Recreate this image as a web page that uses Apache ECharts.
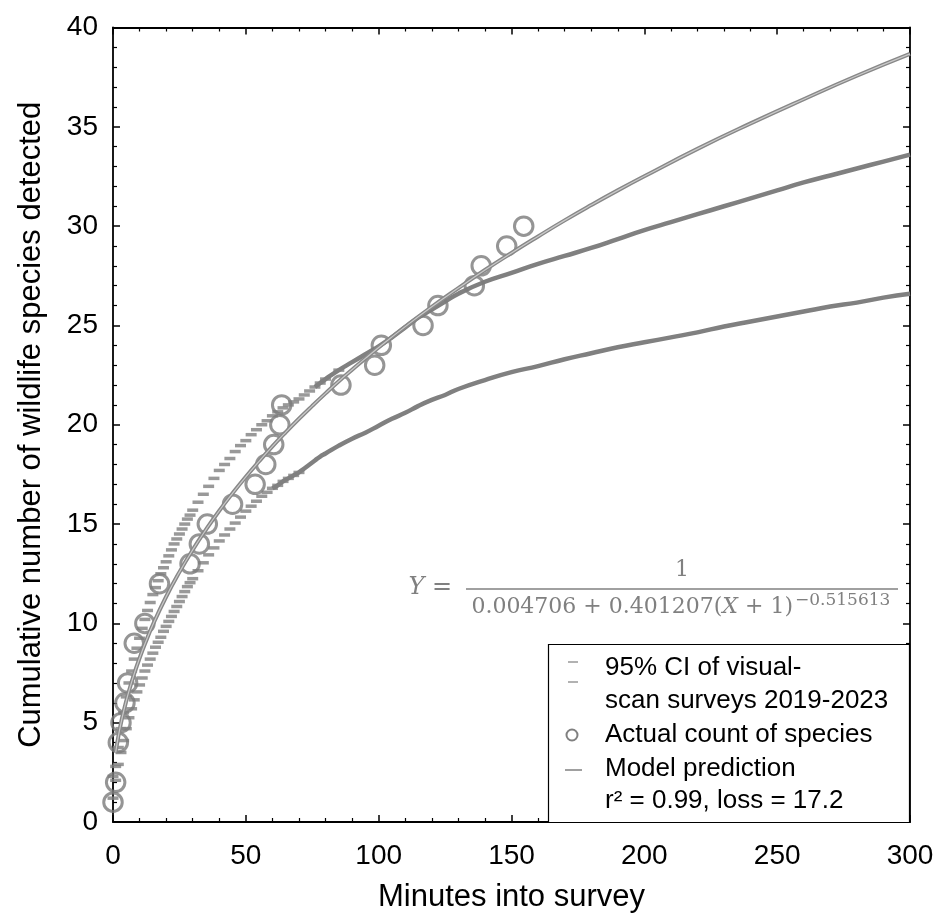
<!DOCTYPE html>
<html><head><meta charset="utf-8">
<script src="https://cdn.jsdelivr.net/npm/echarts@6/dist/echarts.min.js"></script>
<style>html,body{margin:0;padding:0;background:#fff}#c{width:945px;height:918px}</style>
</head><body><div id="c"></div>
<script>
// ---- data ----
const xTitle = 'Minutes into survey';
const yTitle = 'Cumulative number of wildlife species detected';

// actual cumulative count of species [minute, count]
const actualCounts = [[0,1],[1,2],[2,4],[3,5],[4.5,6],[5.5,7],[8,9],[12,10],[17.5,12],[29,13],[32.5,14],[35.5,15],[45,16],[53.5,17],[57.5,18],[60.5,19],[62.8,20],[63.5,21],[85.8,22],[98.5,23],[101,24],[116.7,25],[122.3,26],[136,27],[138.6,28],[148.2,29],[154.6,30]];

// model prediction curve [minute, species]
const modelPrediction = [[1,3.50],[2,4.30],[3,4.98],[4,5.57],[5,6.10],[6,6.59],[8,7.47],[10,8.25],[12,8.96],[15,9.93],[20,11.34],[25,12.58],[30,13.70],[35,14.72],[40,15.67],[45,16.55],[50,17.38],[55,18.16],[60,18.91],[65,19.62],[70,20.30],[75,20.95],[80,21.58],[85,22.19],[90,22.77],[95,23.34],[100,23.89],[110,24.94],[120,25.94],[130,26.88],[140,27.79],[150,28.65],[160,29.48],[170,30.29],[180,31.06],[190,31.80],[200,32.51],[220,33.89],[240,35.17],[260,36.39],[280,37.57],[300,38.67]];

// 95% CI upper band [minute, species]
const ciUpper = [[0,2.3],[1,2.8],[2,3.75],[3,4.7],[4,5.5],[5,6.3],[6,7.0],[7,7.6],[8,8.2],[9,8.75],[10,9.25],[11,9.75],[12,10.2],[13,10.65],[14,11.05],[15,11.45],[16,11.8],[17,12.15],[18,12.5],[19,12.8],[20,13.1],[21,13.4],[22,13.7],[23,14.0],[24,14.25],[25,14.5],[26,14.75],[27,15.0],[28,15.25],[29,15.45],[30,15.7],[32,16.1],[34,16.5],[36,16.9],[38,17.3],[40,17.7],[42,18.0],[44,18.3],[46,18.65],[48,18.95],[50,19.2],[52,19.5],[54,19.75],[56,20.0],[58,20.2],[60,20.45],[62,20.65],[64,20.85],[66,21.0],[68,21.15],[70,21.3],[72,21.5],[74,21.7],[76,21.9],[78,22.1],[80,22.3],[85,22.75],[90,23.15],[95,23.55],[100,23.95],[105,24.4],[110,24.9],[115,25.4],[120,25.8],[125,26.2],[130,26.6],[140,27.2],[150,27.65],[160,28.1],[170,28.5],[180,28.9],[190,29.35],[200,29.8],[210,30.2],[220,30.6],[230,31.0],[240,31.4],[250,31.8],[260,32.2],[270,32.55],[280,32.9],[290,33.25],[300,33.6]];

// 95% CI lower band [minute, species]
const ciLower = [[0,1.2],[1,2.1],[2,2.9],[3,3.5],[4,4.1],[5,4.7],[6,5.25],[7,5.7],[8,6.15],[9,6.55],[10,6.9],[11,7.25],[12,7.6],[13,7.9],[14,8.2],[15,8.5],[16,8.8],[17,9.05],[18,9.3],[19,9.6],[20,9.85],[21,10.1],[22,10.35],[23,10.6],[24,10.85],[25,11.1],[26,11.35],[27,11.6],[28,11.85],[29,12.05],[30,12.25],[32,12.65],[34,13.05],[36,13.45],[38,13.8],[40,14.15],[42,14.45],[44,14.75],[46,15.05],[48,15.35],[50,15.65],[52,15.9],[54,16.15],[56,16.4],[58,16.6],[60,16.8],[62,16.95],[64,17.15],[66,17.3],[68,17.45],[70,17.6],[72,17.8],[74,18.0],[76,18.2],[78,18.4],[80,18.55],[85,18.95],[90,19.3],[95,19.6],[100,19.95],[105,20.3],[110,20.6],[115,20.95],[120,21.25],[125,21.5],[130,21.8],[140,22.25],[150,22.65],[160,22.95],[170,23.3],[180,23.6],[190,23.9],[200,24.15],[210,24.4],[220,24.65],[230,24.95],[240,25.2],[250,25.45],[260,25.7],[270,25.95],[280,26.15],[290,26.4],[300,26.6]];

const legendTexts = ['95% CI of visual-', 'scan surveys 2019-2023', 'Actual count of species', 'Model prediction', 'r\u00B2 = 0.99, loss = 17.2'];
const eqLeft = '{i|Y} =';
const eqNumerator = '1';
const eqDenominator = '0.004706 + 0.401207({i|X} + 1)';
const eqExponent = '\u22120.515613';

// ---- chart ----
const GRAY = '#808080';
const FONT = 'Liberation Sans';
const chart = echarts.init(document.getElementById('c'), null, {renderer: 'canvas'});

function xAx(pos, show) {
  return {
    type: 'value', position: pos, min: 0, max: 300, interval: 50,
    axisLine: {show: true, onZero: false, lineStyle: {color: '#000', width: 1.8}},
    axisTick: {show: true, inside: true, length: 7, lineStyle: {color: '#000', width: 1.5}},
    minorTick: {show: true, splitNumber: 5, length: 4, lineStyle: {color: '#000', width: 1.2}},
    splitLine: {show: false},
    axisLabel: {show: show, fontSize: 28, color: '#000', fontFamily: FONT, margin: 20},
    name: show ? xTitle : '', nameLocation: 'middle', nameGap: 60,
    nameTextStyle: {fontSize: 31, color: '#000', fontFamily: FONT}
  };
}
function yAx(pos, show) {
  return {
    type: 'value', position: pos, min: 0, max: 40, interval: 5,
    axisLine: {show: true, onZero: false, lineStyle: {color: '#000', width: 1.8}},
    axisTick: {show: true, inside: true, length: 7, lineStyle: {color: '#000', width: 1.5}},
    minorTick: {show: true, splitNumber: 5, length: 4, lineStyle: {color: '#000', width: 1.2}},
    splitLine: {show: false},
    axisLabel: {show: show, fontSize: 28, color: '#000', fontFamily: FONT, margin: 15},
    name: show ? yTitle : '', nameLocation: 'middle', nameGap: 66,
    nameTextStyle: {fontSize: 31, color: '#000', fontFamily: FONT}
  };
}

const dashStyle = {symbol: 'rect', symbolSize: [11, 3.5], itemStyle: {color: GRAY}};

const option = {
  animation: false,
  backgroundColor: '#fff',
  textStyle: {fontFamily: FONT},
  grid: {left: 113, right: 35, top: 27.5, bottom: 95.5, containLabel: false},
  xAxis: [xAx('bottom', true), xAx('top', false)],
  yAxis: [yAx('left', true), yAx('right', false)],
  series: [
    Object.assign({type: 'scatter', data: ciUpper.filter(d => d[0] <= 85), z: 2}, dashStyle),
    {type: 'line', data: ciUpper.filter(d => d[0] >= 76), smooth: true, showSymbol: false, z: 2,
     lineStyle: {color: GRAY, width: 4.5}},
    Object.assign({type: 'scatter', data: ciLower.filter(d => d[0] <= 70), z: 2}, dashStyle),
    {type: 'line', data: ciLower.filter(d => d[0] >= 60), smooth: true, showSymbol: false, z: 2,
     lineStyle: {color: GRAY, width: 4.5}},
    {type: 'scatter', data: actualCounts, symbol: 'circle', symbolSize: 18.5, z: 3,
     itemStyle: {color: 'rgba(0,0,0,0)', borderColor: '#7a7a7a', borderWidth: 3}},
    {type: 'line', data: modelPrediction, smooth: true, showSymbol: false, z: 4,
     lineStyle: {color: '#888888', width: 4}},
    {type: 'line', data: modelPrediction, smooth: true, showSymbol: false, z: 5,
     lineStyle: {color: '#ffffff', width: 1.2, opacity: 0.55}}
  ],
  graphic: [
    // equation
    {type: 'text', x: 452, y: 588, z: 50, style: {text: eqLeft, fontSize: 24, fontFamily: 'DejaVu Serif', fill: GRAY, align: 'right', verticalAlign: 'middle', rich: {i: {fontStyle: 'italic', fontSize: 24, fontFamily: 'DejaVu Serif', fill: GRAY}}}},
    {type: 'text', x: 682, y: 570, z: 50, style: {text: eqNumerator, fontSize: 22, fontFamily: 'DejaVu Serif', fill: GRAY, align: 'center', verticalAlign: 'middle'}},
    {type: 'line', z: 50, shape: {x1: 466, y1: 589, x2: 898, y2: 589}, style: {stroke: GRAY, lineWidth: 1.5}},
    {type: 'text', x: 793, y: 607, z: 50, style: {text: eqDenominator, fontSize: 22, fontFamily: 'DejaVu Serif', fill: GRAY, align: 'right', verticalAlign: 'middle', rich: {i: {fontStyle: 'italic', fontSize: 22, fontFamily: 'DejaVu Serif', fill: GRAY}}}},
    {type: 'text', x: 795, y: 601, z: 50, style: {text: eqExponent, fontSize: 17, fontFamily: 'DejaVu Serif', fill: GRAY, align: 'left', verticalAlign: 'middle'}},
    // legend box
    {type: 'rect', z: 60, shape: {x: 548.5, y: 644.5, width: 361, height: 178}, style: {fill: '#fff', stroke: '#000', lineWidth: 1.2}},
    {type: 'line', z: 61, shape: {x1: 568, y1: 662, x2: 578, y2: 662}, style: {stroke: '#999', lineWidth: 1.5}},
    {type: 'line', z: 61, shape: {x1: 568, y1: 682, x2: 578, y2: 682}, style: {stroke: '#999', lineWidth: 1.5}},
    {type: 'circle', z: 61, shape: {cx: 572, cy: 735, r: 5.5}, style: {fill: 'none', stroke: GRAY, lineWidth: 2}},
    {type: 'line', z: 61, shape: {x1: 565, y1: 770, x2: 582, y2: 770}, style: {stroke: GRAY, lineWidth: 1.5}},
    {type: 'text', z: 61, x: 605, y: 668, style: {text: legendTexts[0], fontSize: 26, fontFamily: FONT, fill: '#000', verticalAlign: 'middle'}},
    {type: 'text', z: 61, x: 605, y: 701, style: {text: legendTexts[1], fontSize: 26, fontFamily: FONT, fill: '#000', verticalAlign: 'middle'}},
    {type: 'text', z: 61, x: 605, y: 735, style: {text: legendTexts[2], fontSize: 26, fontFamily: FONT, fill: '#000', verticalAlign: 'middle'}},
    {type: 'text', z: 61, x: 605, y: 769, style: {text: legendTexts[3], fontSize: 26, fontFamily: FONT, fill: '#000', verticalAlign: 'middle'}},
    {type: 'text', z: 61, x: 605, y: 801, style: {text: legendTexts[4], fontSize: 26, fontFamily: FONT, fill: '#000', verticalAlign: 'middle'}}
  ]
};
chart.setOption(option);
</script>
</body></html>
